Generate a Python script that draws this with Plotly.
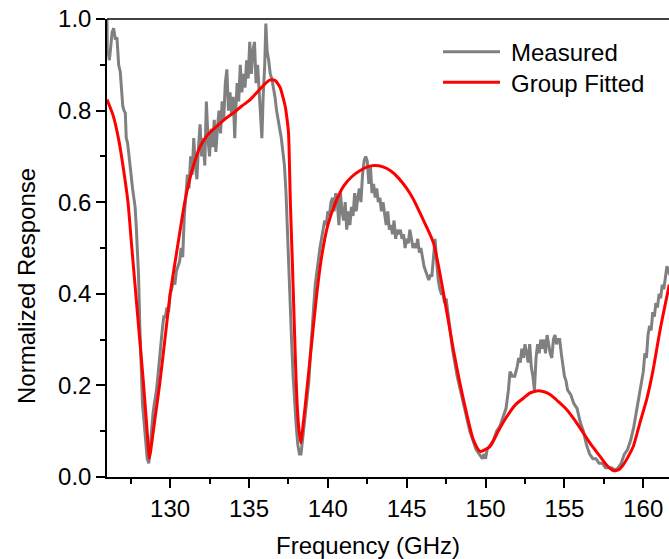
import plotly.graph_objects as go

# Measured response (GHz, normalized)
meas_freq = [126.00,126.02,126.08,126.15,126.21,126.32,126.42,126.53,126.63,126.74,126.84,126.92,
127.00,127.08,127.16,127.22,127.30,127.40,127.48,127.55,127.62,127.70,127.78,127.85,127.92,128.00,128.08,128.15,128.25,
128.35,128.45,128.55,128.65,128.72,128.80,128.85,128.92,129.00,129.10,129.20,129.30,129.40,129.50,129.60,129.70,
129.80,129.90,130.00,130.10,130.20,130.30,130.40,130.50,130.60,130.70,130.80,130.90,
131.00,131.10,131.20,131.30,131.40,131.50,131.60,131.70,131.80,131.90,132.00,132.10,132.20,132.30,132.40,132.50,
132.60,132.70,132.80,132.90,133.00,133.10,133.20,133.30,133.40,133.50,133.60,133.70,133.80,133.90,134.00,134.10,
134.15,134.25,134.35,134.45,134.55,134.65,134.75,134.85,134.95,135.05,135.15,135.25,135.35,135.45,135.55,135.65,
135.75,135.82,135.90,136.00,136.07,136.15,136.25,136.35,136.45,136.55,136.65,136.75,136.85,136.95,137.05,137.15,
137.25,137.35,137.42,137.50,137.60,137.70,137.80,137.90,138.00,138.10,138.20,138.30,138.40,138.50,138.60,138.70,
138.80,138.90,139.00,139.10,139.20,139.30,139.40,139.50,139.60,139.70,139.80,139.90,140.00,140.10,140.20,140.30,
140.40,140.50,140.60,140.70,140.80,140.90,141.00,141.10,141.20,141.30,141.40,141.50,141.60,141.70,141.80,141.90,
142.00,142.10,142.20,142.30,142.40,142.50,142.60,142.70,142.80,142.90,143.00,143.10,143.20,143.30,143.40,143.50,
143.60,143.70,143.80,143.90,144.00,144.10,144.20,144.30,144.40,144.50,144.60,144.70,144.80,144.90,145.00,145.10,
145.20,145.30,145.40,145.50,145.60,145.70,145.80,145.90,146.00,146.10,146.20,146.30,146.40,146.50,146.60,146.70,
146.80,146.90,147.00,147.10,147.20,147.30,147.40,147.50,147.60,147.70,147.80,147.90,148.00,148.20,148.40,148.60,
148.80,149.00,149.20,149.40,149.60,149.80,149.90,150.00,150.10,150.30,150.50,150.70,150.90,151.10,151.30,151.45,
151.55,151.70,151.85,152.00,152.10,152.20,152.30,152.40,152.50,152.60,152.70,152.80,152.90,153.00,153.10,153.20,
153.30,153.40,153.50,153.60,153.70,153.80,153.90,154.00,154.10,154.20,154.30,154.40,154.50,154.60,154.70,154.80,
154.90,155.00,155.10,155.20,155.40,155.60,155.80,156.00,156.20,156.40,156.60,156.80,157.00,157.20,157.40,157.60,
157.80,158.00,158.20,158.40,158.60,158.80,159.00,159.20,159.40,159.60,159.80,159.90,160.00,160.10,160.20,160.30,
160.40,160.50,160.60,160.70,160.80,160.90,161.00,161.10,161.20,161.30,161.40,161.50,161.60,161.70]
meas_resp = [1.00,0.92,0.93,0.91,0.93,0.97,0.98,0.955,0.96,0.90,0.885,0.84,
0.81,0.80,0.795,0.74,0.73,0.70,0.67,0.66,0.63,0.61,0.59,0.55,0.51,0.44,0.33,0.24,0.16,
0.12,0.07,0.04,0.03,0.06,0.10,0.13,0.14,0.16,0.18,0.21,0.25,0.28,0.32,0.35,0.35,
0.37,0.36,0.40,0.41,0.43,0.42,0.45,0.46,0.47,0.50,0.48,0.57,
0.62,0.66,0.63,0.70,0.66,0.74,0.68,0.65,0.72,0.77,0.70,0.74,0.68,0.82,0.74,0.70,
0.76,0.72,0.78,0.71,0.76,0.80,0.75,0.82,0.78,0.86,0.89,0.80,0.84,0.79,0.83,0.74,
0.79,0.86,0.82,0.90,0.84,0.88,0.85,0.91,0.87,0.95,0.88,0.93,0.95,0.86,0.90,0.84,
0.80,0.74,0.83,0.90,0.99,0.93,0.91,0.88,0.87,0.85,0.83,0.80,0.78,0.76,0.74,0.71,
0.68,0.62,0.55,0.46,0.38,0.30,0.22,0.16,0.11,0.07,0.05,0.05,0.08,0.12,0.15,0.17,
0.21,0.27,0.33,0.37,0.42,0.45,0.48,0.50,0.52,0.54,0.56,0.55,0.58,0.57,0.60,0.61,
0.58,0.62,0.60,0.55,0.62,0.58,0.56,0.60,0.54,0.58,0.55,0.59,0.57,0.62,0.58,0.61,
0.63,0.60,0.66,0.69,0.70,0.69,0.64,0.68,0.62,0.64,0.61,0.63,0.60,0.61,0.58,0.60,
0.57,0.55,0.58,0.54,0.55,0.53,0.56,0.52,0.54,0.53,0.54,0.52,0.53,0.50,0.52,0.51,
0.54,0.52,0.50,0.51,0.50,0.52,0.49,0.50,0.48,0.46,0.45,0.44,0.43,0.44,0.44,0.48,
0.52,0.47,0.43,0.41,0.40,0.40,0.38,0.39,0.36,0.33,0.30,0.28,0.26,0.22,0.19,0.16,
0.13,0.10,0.08,0.06,0.05,0.04,0.05,0.04,0.06,0.07,0.08,0.10,0.11,0.13,0.15,0.19,
0.23,0.22,0.22,0.24,0.26,0.25,0.28,0.26,0.29,0.27,0.25,0.29,0.24,0.22,0.19,0.26,
0.29,0.27,0.30,0.28,0.30,0.27,0.31,0.29,0.27,0.26,0.30,0.31,0.29,0.30,0.30,0.27,
0.24,0.22,0.21,0.19,0.18,0.16,0.15,0.12,0.10,0.07,0.05,0.04,0.04,0.03,0.03,0.02,
0.02,0.02,0.015,0.02,0.03,0.05,0.06,0.08,0.11,0.15,0.19,0.21,0.23,0.27,0.26,0.31,
0.33,0.32,0.36,0.35,0.38,0.37,0.40,0.39,0.42,0.41,0.44,0.46,0.45,0.44]

# Group fitted response
fit_freq = [126.00,126.40,126.75,127.05,127.33,127.55,127.80,128.05,128.30,128.50,128.62,128.68,128.78,129.05,
129.33,129.67,130.01,130.44,130.96,131.40,131.91,132.40,132.97,133.50,134.02,134.55,135.08,135.60,136.00,136.35,
136.65,136.85,136.98,137.15,137.30,137.42,137.51,137.57,137.62,137.75,137.85,137.95,138.04,138.15,138.29,138.42,
138.55,138.67,139.00,139.30,139.60,140.00,140.50,141.00,141.50,142.00,142.50,142.94,143.50,144.00,144.50,145.00,
145.43,146.00,146.70,147.33,147.96,148.60,149.23,149.66,150.29,150.80,151.35,151.90,152.40,152.80,153.25,153.70,
154.09,154.60,155.15,155.70,156.20,156.70,157.26,157.70,158.10,158.45,158.74,159.05,159.37,159.80,160.22,160.60,
161.06,161.65]
fit_resp = [0.824,0.788,0.735,0.671,0.600,0.510,0.410,0.310,0.210,0.120,0.065,0.040,0.060,0.130,
0.200,0.300,0.400,0.496,0.606,0.670,0.722,0.748,0.766,0.782,0.795,0.810,0.824,0.843,0.858,0.867,
0.866,0.858,0.850,0.830,0.809,0.780,0.751,0.678,0.606,0.470,0.360,0.250,0.169,0.110,0.074,0.110,
0.150,0.190,0.300,0.400,0.480,0.550,0.600,0.635,0.655,0.668,0.677,0.680,0.677,0.668,0.652,0.630,
0.606,0.565,0.511,0.402,0.278,0.169,0.081,0.056,0.067,0.100,0.132,0.158,0.172,0.183,0.188,0.186,
0.180,0.165,0.147,0.122,0.096,0.070,0.045,0.025,0.014,0.016,0.027,0.045,0.067,0.120,0.170,0.230,
0.320,0.420]

x_ticks = [130, 135, 140, 145, 150, 155, 160]
y_ticks = [0.0, 0.2, 0.4, 0.6, 0.8, 1.0]

FONT = "Arial, 'Liberation Sans', sans-serif"

# plot-area geometry in pixels (figure coordinates)
PL, PR, PT, PB = 107.0, 669.0, 19.0, 477.0
PW, PH = PR - PL, PB - PT


def px_x(x):
    return (x - PL) / PW


def px_y(y):
    return (PB - y) / PH


fig = go.Figure()
fig.add_trace(go.Scatter(x=meas_freq, y=meas_resp, mode="lines", name="Measured",
                         line=dict(color="#808080", width=3)))
fig.add_trace(go.Scatter(x=fit_freq, y=fit_resp, mode="lines", name="Group Fitted",
                         line=dict(color="#ff0000", width=3, shape="spline", smoothing=0.6)))

axis_common = dict(showgrid=False, zeroline=False, showline=True, linecolor="black", linewidth=1.5,
                   ticks="outside", ticklen=9, tickwidth=1.5, tickcolor="black",
                   tickfont=dict(family=FONT, size=24, color="black"))

fig.update_xaxes(range=[126.0, 161.63], tickvals=x_ticks, ticktext=[str(v) for v in x_ticks],
                 minor=dict(dtick=2.5, tick0=127.5, ticks="outside", ticklen=5, tickwidth=1.5, tickcolor="black"),
                 **axis_common)
fig.update_yaxes(range=[0, 1.0], tickvals=y_ticks, ticktext=[f"{v:.1f}" for v in y_ticks],
                 minor=dict(dtick=0.1, tick0=0, ticks="outside", ticklen=5, tickwidth=1.5, tickcolor="black"),
                 **axis_common)

# top frame line
fig.add_shape(type="line", xref="paper", yref="paper", x0=0, x1=1, y0=1, y1=1,
              line=dict(color="black", width=1.5))

# axis titles
fig.add_annotation(text="Frequency (GHz)", xref="paper", yref="paper",
                   x=px_x(367.5), y=px_y(545), xanchor="center", yanchor="middle",
                   showarrow=False, font=dict(family=FONT, size=24, color="black"))
fig.add_annotation(text="Normalized Response", xref="paper", yref="paper",
                   x=px_x(26), y=px_y(286), xanchor="center", yanchor="middle",
                   textangle=-90, showarrow=False, font=dict(family=FONT, size=24, color="black"))

# legend (drawn in paper coordinates)
legend_rows = [("Measured", "#808080", 51.7), ("Group Fitted", "#ff0000", 82.3)]
for label, color, ypx in legend_rows:
    fig.add_shape(type="line", xref="paper", yref="paper", x0=px_x(443), x1=px_x(500),
                  y0=px_y(ypx), y1=px_y(ypx), line=dict(color=color, width=3))
    fig.add_annotation(text=label, xref="paper", yref="paper", x=px_x(509), y=px_y(ypx + 1),
                       xanchor="left", yanchor="middle", showarrow=False,
                       font=dict(family=FONT, size=24, color="black"))

fig.update_layout(
    width=669, height=559,
    margin=dict(l=107, r=0, t=19, b=82, pad=0),
    paper_bgcolor="white", plot_bgcolor="white",
    showlegend=False,
)

fig.write_html("out.html", config={"displayModeBar": False},
               post_script="document.body.style.margin='0';document.body.style.overflow='hidden';")
